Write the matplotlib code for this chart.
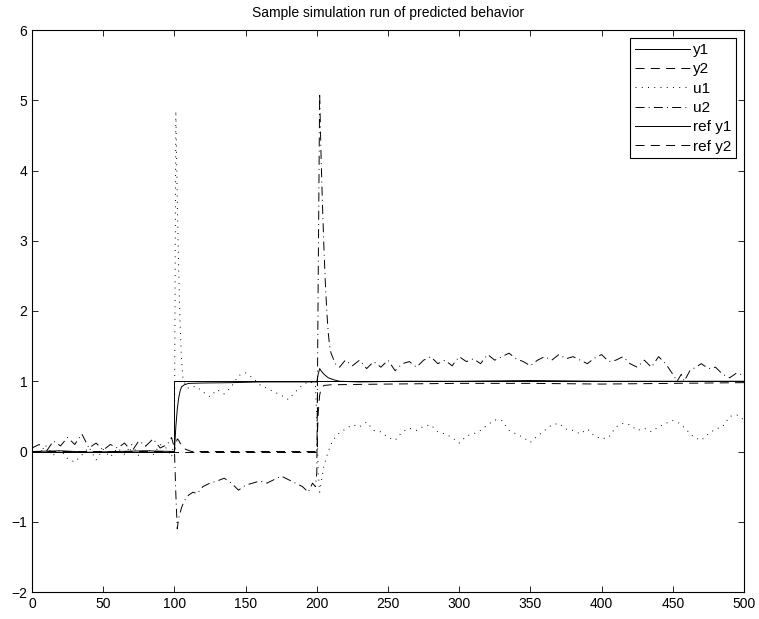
import matplotlib
matplotlib.use("Agg")
import matplotlib.pyplot as plt

plt.rcParams['font.family'] = ['Liberation Sans', 'DejaVu Sans']
plt.rcParams['lines.scale_dashes'] = False

# sample times and values
t_pre = list(range(0, 100, 5))

u1_t = t_pre + [98, 99, 100, 101, 102, 103, 104, 105, 106, 108, 110, 115, 120, 125, 130,
                135, 140, 145, 150, 155, 160, 165, 170, 175, 180, 185, 190, 195, 199, 200,
                201, 202, 203, 205, 208, 211, 215] + list(range(220, 505, 5))
u1 = [0.05, -0.03, 0.08, -0.05, 0.02, -0.10, -0.15, -0.05, 0.06, -0.12,
      0.03, -0.08, 0.05, -0.04, 0.10, -0.06, 0.08, -0.05, 0.10, 0.04,
      -0.08, 0.05, 0.00, 4.85, 3.60, 2.60, 1.80, 1.30, 1.05, 0.93, 0.90, 0.93, 0.85,
      0.78, 0.88, 0.82, 0.92, 1.08, 1.12, 1.05, 0.95, 0.90, 0.85, 0.80, 0.74, 0.85,
      0.95, 1.00, 0.95, 0.50, -0.30, -0.58, -0.45, -0.20, 0.00, 0.15, 0.25,
      0.32, 0.38, 0.35, 0.42, 0.30, 0.28, 0.20, 0.16, 0.28, 0.33, 0.30, 0.36,
      0.38, 0.28, 0.25, 0.20, 0.12, 0.22, 0.25, 0.30, 0.38, 0.45, 0.44, 0.30,
      0.25, 0.20, 0.13, 0.22, 0.30, 0.38, 0.40, 0.32, 0.30, 0.25, 0.32, 0.22,
      0.18, 0.20, 0.35, 0.40, 0.38, 0.30, 0.33, 0.28, 0.35, 0.40, 0.44, 0.40,
      0.30, 0.20, 0.16, 0.25, 0.32, 0.35, 0.50, 0.52, 0.45]

u2_t = t_pre + [98, 100, 101, 102, 103, 105, 107, 110, 113, 116, 120, 125, 130, 135,
                140, 145, 150, 155, 160, 165, 170, 175, 180, 185, 190, 194, 197, 199,
                200, 201, 202, 203, 204, 205, 206, 207, 208, 209, 210, 213, 216] + \
       list(range(220, 455, 5)) + [453, 456, 458, 462, 466, 470, 475, 480, 485, 490, 495, 500]
u2 = [0.05, 0.10, 0.00, 0.15, 0.08, 0.20, 0.10, 0.25, 0.05, 0.12,
      0.02, 0.10, 0.05, 0.12, 0.00, 0.15, 0.08, 0.18, 0.05, 0.10,
      0.20, 0.05, -0.60, -1.10, -0.95, -0.80, -0.70, -0.62, -0.58, -0.60, -0.50,
      -0.45, -0.42, -0.38, -0.45, -0.55, -0.48, -0.45, -0.42, -0.45, -0.40, -0.35,
      -0.40, -0.45, -0.50, -0.58, -0.45, -0.50,
      -0.30, 2.50, 5.10, 4.20, 3.50, 2.90, 2.40, 2.00, 1.70, 1.50, 1.40, 1.25, 1.20,
      1.30, 1.22, 1.30, 1.18, 1.28, 1.20, 1.30, 1.15, 1.25, 1.28, 1.20, 1.30,
      1.35, 1.25, 1.30, 1.22, 1.35, 1.28, 1.32, 1.25, 1.38, 1.30, 1.35, 1.40,
      1.32, 1.28, 1.22, 1.30, 1.35, 1.30, 1.38, 1.32, 1.35, 1.30, 1.25, 1.33,
      1.38, 1.28, 1.30, 1.35, 1.25, 1.20, 1.30, 1.20, 1.35, 1.25, 1.10,
      1.00, 1.10, 1.00, 1.15, 1.20, 1.25, 1.18, 1.20, 1.10, 1.05, 1.12, 1.08]

y1_t = [0, 20, 40, 60, 80, 100, 101, 102, 103, 104, 105, 107, 110, 120, 140, 160, 180,
        200, 201, 202, 203, 205, 208, 212, 216, 230, 260, 300, 350, 400, 450, 500]
y1 = [0.0, 0.01, -0.01, 0.0, 0.01, 0.0, 0.35, 0.60, 0.76, 0.86, 0.92, 0.95, 0.97,
      0.975, 0.98, 0.99, 0.99, 0.99, 1.10, 1.18, 1.15, 1.10, 1.05, 1.02, 1.00,
      0.99, 1.00, 1.00, 1.01, 1.00, 1.00, 1.00]

y2_t = [0, 100, 101, 102, 103, 104, 106, 108, 112, 150, 200, 201, 202, 203, 205, 210,
        250, 300, 350, 400, 450, 500]
y2 = [0.0, 0.0, 0.10, 0.18, 0.16, 0.12, 0.06, 0.03, 0.0, 0.0, 0.0, 0.55, 0.80, 0.90,
      0.94, 0.95, 0.96, 0.97, 0.97, 0.96, 0.97, 0.98]

ref_t1 = [0, 100, 500]
ref_y1 = [0, 1, 1]
ref_t2 = [0, 200, 500]
ref_y2 = [0, 1, 1]

fig = plt.figure(figsize=(7.59, 6.19), dpi=100)
ax = fig.add_axes([32 / 759, 27 / 619, 712 / 759, 562 / 619])

lw = 0.7
dash = (0, (6.5, 4.5))
dot = (0, (0.7, 3.8))
dashdot = (0, (6.5, 3, 0.7, 3))
ax.plot(y1_t, y1, color='k', lw=lw, ls='-', label='y1')
ax.plot(y2_t, y2, color='k', lw=lw, ls=dash, label='y2')
ax.plot(u1_t, u1, color='k', lw=lw, ls=dot, label='u1')
ax.plot(u2_t, u2, color='k', lw=lw, ls=dashdot, label='u2')
ax.plot(ref_t1, ref_y1, color='k', lw=lw, ls='-', drawstyle='steps-post', label='ref y1')
ax.plot(ref_t2, ref_y2, color='k', lw=lw, ls=dash, drawstyle='steps-post', label='ref y2')

ax.set_xlim(0, 500)
ax.set_ylim(-2, 6)
ax.set_xticks(range(0, 501, 50))
ax.set_yticks(range(-2, 7))
ax.tick_params(direction='in', top=True, right=True, length=4, width=0.6, labelsize=10)
for s in ax.spines.values():
    s.set_linewidth(0.8)

ax.set_title('Sample simulation run of predicted behavior', fontsize=10, pad=9)

leg = ax.legend(loc='upper right', fontsize=11, frameon=True, fancybox=False,
                edgecolor='k', framealpha=1, handlelength=3.6, handletextpad=0.2,
                labelspacing=0.35, borderpad=0.3, borderaxespad=0.55)
leg.get_frame().set_linewidth(0.8)

fig.savefig('out.png', dpi=100)
